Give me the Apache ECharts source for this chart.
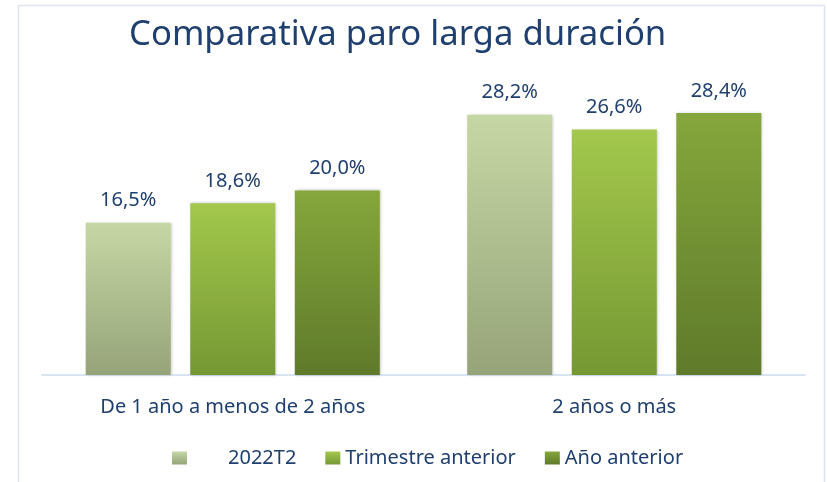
<!DOCTYPE html>
<html><head><meta charset="utf-8">
<script src="https://cdn.jsdelivr.net/npm/echarts@6/dist/echarts.min.js"></script>
<style>html,body{margin:0;padding:0;background:#fff}#c{width:827px;height:482px}</style>
</head><body><div id="c"></div>
<script>
const categories = ['De 1 año a menos de 2 años', '2 años o más'];
const seriesNames = ['2022T2', 'Trimestre anterior', 'Año anterior'];
const s2022T2 = [16.5, 28.2];
const sTrimestre = [18.6, 26.6];
const sAnio = [20.0, 28.4];
const titleText = 'Comparativa paro larga duración';

const textColor = '#1F3F6E';
const font = 'Noto Sans';
function grad(top, bottom) {
  return new echarts.graphic.LinearGradient(0, 0, 0, 1, [
    {offset: 0, color: top}, {offset: 1, color: bottom}
  ]);
}
const gradients = [
  grad('#C5D8A4', '#96A479'),
  grad('#A3C84C', '#769833'),
  grad('#85A73C', '#5F7A2A')
];
const values = [s2022T2, sTrimestre, sAnio];

const chart = echarts.init(document.getElementById('c'));
chart.setOption({
  animation: false,
  title: {
    text: titleText, left: 124, top: 13,
    textStyle: {fontFamily: font, fontSize: 34.7, fontWeight: 'normal', color: textColor}
  },
  graphic: [{
    type: 'rect', shape: {x: 18.5, y: 5.5, width: 806, height: 520},
    style: {fill: 'none', stroke: '#DCE6F2', lineWidth: 1.5}, silent: true, z: -1
  }],
  legend: {
    left: 167, top: 443, itemWidth: 15, itemHeight: 13, itemGap: 29,
    icon: 'rect',
    formatter: n => n === '2022T2' ? '{sp|}' + n : n,
    textStyle: {fontFamily: font, fontSize: 20, color: textColor, rich: {sp: {width: 36}}}
  },
  grid: {left: 42, right: 22, top: 52, bottom: 107},
  xAxis: {
    type: 'category', data: categories,
    axisLine: {lineStyle: {color: '#D9E4F3', width: 2}},
    axisTick: {show: false},
    axisLabel: {fontFamily: font, fontSize: 20, color: textColor, margin: 22}
  },
  yAxis: {type: 'value', min: 0, max: 35, show: false, splitLine: {show: false}},
  series: seriesNames.map((name, i) => ({
    name, type: 'bar', data: values[i],
    barWidth: 85, barGap: '23%',
    itemStyle: {color: gradients[i], shadowBlur: 3, shadowColor: 'rgba(0,0,0,0.25)', shadowOffsetX: 1, shadowOffsetY: 0},
    label: {
      show: true, position: 'top', distance: 12,
      formatter: p => p.value.toFixed(1).replace('.', ',') + '%',
      fontFamily: font, fontSize: 20, color: textColor
    }
  }))
});
</script></body></html>
